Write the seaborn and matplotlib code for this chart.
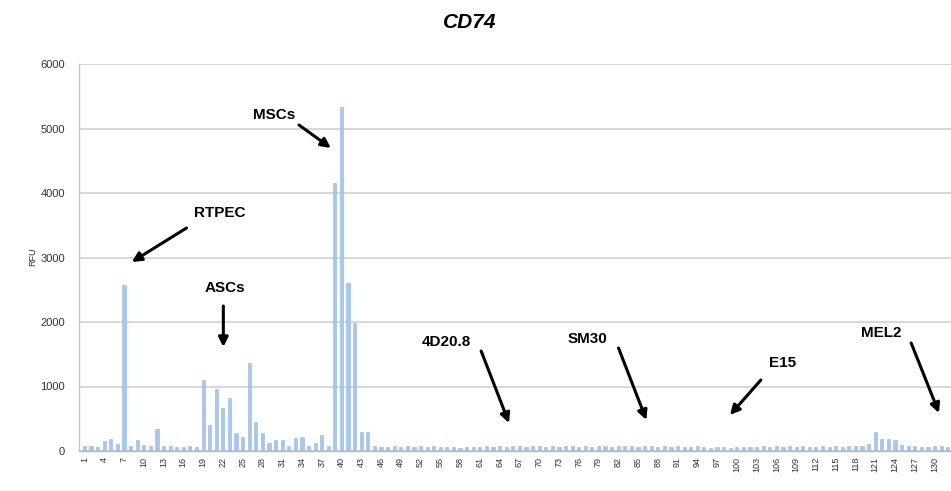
import numpy as np
import pandas as pd
import matplotlib
matplotlib.use("Agg")
import matplotlib.pyplot as plt
import seaborn as sns

# ---- data ----
samples = list(range(1, 133))
rfu = [
    80, 80, 65, 160, 180, 105, 2580, 80, 170, 95,
    75, 340, 75, 75, 55, 55, 75, 65, 1100, 400,
    960, 660, 815, 280, 210, 1370, 455, 285, 130, 170,
    175, 80, 200, 210, 70, 130, 250, 80, 4150, 5330,
    2600, 1980, 300, 290, 70, 60, 65, 70, 60, 75,
    60, 70, 65, 80, 60, 55, 65, 50, 60, 55,
    65, 70, 60, 80, 65, 70, 75, 60, 80, 70,
    65, 75, 60, 80, 70, 65, 75, 60, 85, 70,
    65, 80, 70, 75, 60, 80, 70, 65, 75, 60,
    70, 65, 60, 75, 55, 50, 65, 55, 45, 60,
    55, 65, 60, 70, 60, 75, 65, 70, 60, 75,
    65, 60, 70, 65, 75, 60, 70, 80, 75, 110,
    300, 190, 185, 170, 90, 70, 80, 65, 60, 75,
    70, 65,
]
y_ticks = [0, 1000, 2000, 3000, 4000, 5000, 6000]
labels = ["RTPEC", "ASCs", "MSCs", "4D20.8", "SM30", "E15", "MEL2"]

df = pd.DataFrame({"sample": [str(s) for s in samples], "rfu": rfu})

sns.set_style("white")
plt.rcParams["font.family"] = ["Liberation Sans", "DejaVu Sans"]

W, H = 951, 491
fig = plt.figure(figsize=(W / 100, H / 100), dpi=100)
ax_left_px, ax_bottom_px, ax_top_px = 79, 451, 64
ax = fig.add_axes([ax_left_px / W, (H - ax_bottom_px) / H,
                   (W - ax_left_px) / W + 0.0, (ax_bottom_px - ax_top_px) / H])

sns.barplot(data=df, x="sample", y="rfu", order=[str(s) for s in samples],
            color="#a9c7ea", width=0.48, edgecolor="#93b6e0", linewidth=0.4,
            saturation=1, ax=ax)

px_per_cat = 6.62
x0_px = 84.5
ax.set_xlim(-(x0_px - ax_left_px) / px_per_cat, (W - x0_px) / px_per_cat)
ax.set_ylim(0, 6000)
ax.set_yticks(y_ticks)
ax.set_yticklabels([str(v) for v in y_ticks], fontsize=8, color="#333333")
ax.set_xticks(range(0, len(samples), 3))
ax.set_xticklabels([str(s) for s in samples[::3]], rotation=90, fontsize=6.5,
                   color="#333333")
ax.set_xticks(np.arange(-0.5, len(samples), 1), minor=True)
ax.tick_params(axis="x", which="major", length=0, pad=4)
ax.tick_params(axis="x", which="minor", length=3, color="#b0b0b0", width=0.8)
ax.tick_params(axis="y", length=0, pad=10)
ax.set_xlabel("")
ax.set_ylabel("")
ax.yaxis.grid(True, color="#d4d4d4", lw=1.3)
ax.set_axisbelow(True)
for s in ["top", "right"]:
    ax.spines[s].set_visible(False)
ax.spines["left"].set_color("#c8c8c8")
ax.spines["bottom"].set_color("#b8b8b8")
ax.spines["left"].set_linewidth(1.0)
ax.spines["bottom"].set_linewidth(1.0)

fig.text(470 / W, 1 - 22 / H, "CD74", ha="center", va="center", fontsize=15,
         fontweight="bold", fontstyle="italic", color="black")
fig.text(33 / W, 1 - 257 / H, "RFU", rotation=90, ha="center", va="center",
         fontsize=6.5, color="#333333")


def to_data(px, py):
    return ((px - x0_px) / px_per_cat, (ax_bottom_px - py) / (ax_bottom_px - ax_top_px) * 6000)


# (label, text center px, arrow tail px, arrow head px)
ann = [
    (labels[0], (220, 213), (187, 228), (132, 262)),
    (labels[1], (226, 288), (224, 306), (224, 347)),
    (labels[2], (275, 115), (300, 125), (332, 148)),
    (labels[3], (448, 342), (483, 351), (511, 423)),
    (labels[4], (590, 339), (621, 348), (649, 420)),
    (labels[5], (786, 363), (764, 380), (733, 415)),
    (labels[6], (885, 333), (915, 343), (943, 413)),
]
for lab, tc, tail, head in ann:
    ax.text(*to_data(*tc), lab, ha="center", va="center", fontsize=11,
            fontweight="bold", color="black")
    ax.annotate("", xy=to_data(*head), xytext=to_data(*tail),
                arrowprops=dict(arrowstyle="-|>", color="black", lw=2.2,
                                mutation_scale=14, shrinkA=0, shrinkB=0))

fig.savefig("out.png", dpi=100)
